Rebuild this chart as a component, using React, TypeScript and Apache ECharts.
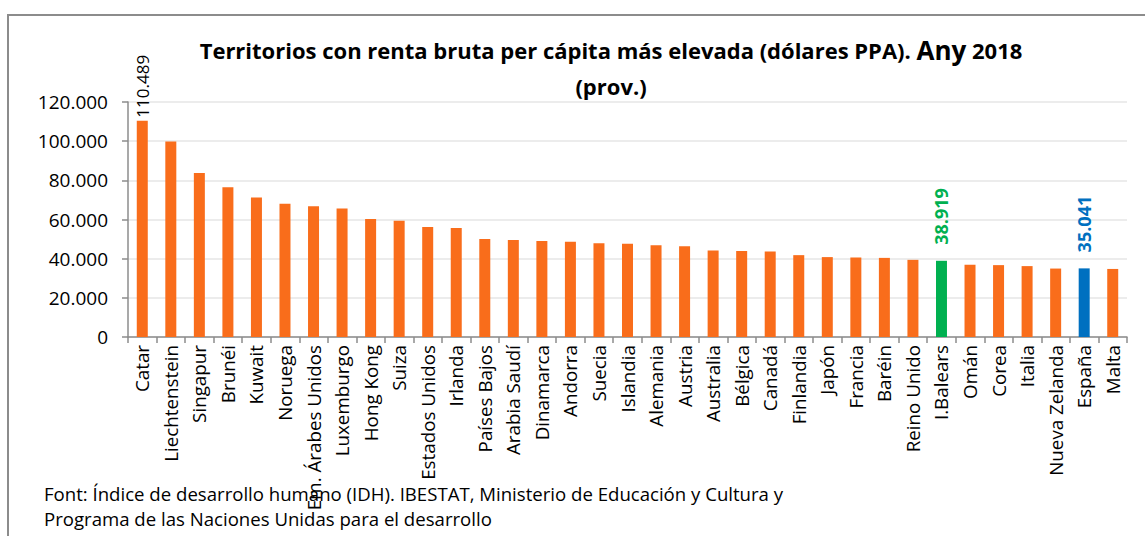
import React, { useEffect, useRef } from "react";
import * as echarts from "echarts";

const categories = [
  "Catar", "Liechtenstein", "Singapur", "Brunéi", "Kuwait", "Noruega",
  "Em. Árabes Unidos", "Luxemburgo", "Hong Kong", "Suiza", "Estados Unidos",
  "Irlanda", "Países Bajos", "Arabia Saudí", "Dinamarca", "Andorra", "Suecia",
  "Islandia", "Alemania", "Austria", "Australia", "Bélgica", "Canadá",
  "Finlandia", "Japón", "Francia", "Baréin", "Reino Unido", "I.Balears",
  "Omán", "Corea", "Italia", "Nueva Zelanda", "España", "Malta",
];

const values = [
  110489, 99800, 83800, 76500, 71200, 68000,
  66800, 65600, 60200, 59400, 56200,
  55600, 50100, 49500, 49000, 48600, 47900,
  47600, 46900, 46400, 44200, 43900, 43650,
  41800, 40800, 40600, 40400, 39400, 38919,
  36900, 36700, 36200, 34950, 35041, 34750,
];

// categories whose value is printed above the bar, with their colours
const labelledCategories = ["Catar", "I.Balears", "España"];
const highlightColors: Record<string, string> = {
  "I.Balears": "#00B050",
  "España": "#0070C0",
};
const labelColors: Record<string, string> = {
  "Catar": "#000000",
  "I.Balears": "#00B050",
  "España": "#0070C0",
};

const yTicks = { min: 0, max: 120000, interval: 20000 };

const titleLine1 = "Territorios con renta bruta per cápita más elevada (dólares PPA). ";
const titleAny = "Any";
const titleYear = " 2018";
const titleLine2 = "(prov.)";
const footer1 = "Font: Índice de desarrollo humano (IDH). IBESTAT, Ministerio de Educación y Cultura y";
const footer2 = "Programa de las Naciones Unidas para el desarrollo";

const ORANGE = "#F96D1B";
const FONT = "'Open Sans', 'Noto Sans', sans-serif";

const fmt = (v: number) => {
  const s = Math.round(v).toString();
  return s.replace(/\B(?=(\d{3})+(?!\d))/g, ".");
};

export default function App() {
  const ref = useRef<HTMLDivElement>(null);

  useEffect(() => {
    if (!ref.current) return;
    const chart = echarts.init(ref.current, undefined, { renderer: "svg" });

    const data = values.map((v, i) => {
      const name = categories[i];
      const color = highlightColors[name] || ORANGE;
      const labelled = labelledCategories.includes(name);
      const bold = name !== "Catar";
      return {
        value: v,
        itemStyle: { color },
        label: labelled
          ? {
              show: true,
              position: "top",
              rotate: 90,
              align: "left",
              verticalAlign: "middle",
              distance: bold ? 16 : 3,
              formatter: (p: any) => fmt(p.value),
              color: labelColors[name],
              fontFamily: FONT,
              fontSize: bold ? 18 : 17,
              fontWeight: bold ? "bold" : "normal",
            }
          : { show: false },
      };
    });

    chart.setOption({
      animation: false,
      backgroundColor: "#ffffff",
      title: {
        text:
          "{a|" + titleLine1 + "}{b|" + titleAny + "}{a|" + titleYear + "}\n{a|" + titleLine2 + "}",
        left: 606,
        top: 27,
        textAlign: "center",
        textStyle: {
          rich: {
            a: { fontFamily: FONT, fontSize: 22, fontWeight: "bold", color: "#000", lineHeight: 36 },
            b: { fontFamily: FONT, fontSize: 26, fontWeight: "bold", color: "#000", lineHeight: 36 },
          },
        },
      },
      grid: { left: 128, right: 18, top: 102, bottom: 199 },
      xAxis: {
        type: "category",
        data: categories,
        axisLine: { show: true, lineStyle: { color: "#8C8C8C", width: 1.5 } },
        axisTick: { show: true, length: 6, interval: 0, lineStyle: { color: "#8C8C8C", width: 1.5 } },
        axisLabel: {
          interval: 0,
          rotate: 90,
          margin: 8,
          color: "#000",
          fontFamily: FONT,
          fontSize: 18.8,
        },
      },
      yAxis: {
        type: "value",
        min: yTicks.min,
        max: yTicks.max,
        interval: yTicks.interval,
        axisLine: { show: true, lineStyle: { color: "#8C8C8C", width: 1.5 } },
        axisTick: { show: true, length: 6, lineStyle: { color: "#8C8C8C", width: 1.5 } },
        axisLabel: {
          color: "#000",
          fontFamily: FONT,
          fontSize: 19,
          margin: 20,
          formatter: (v: number) => fmt(v),
        },
        splitLine: { show: true, lineStyle: { color: "#ECECEC", width: 2 } },
      },
      series: [
        {
          type: "bar",
          data,
          barWidth: 11,
        },
      ],
      graphic: [
        {
          type: "rect",
          shape: { x: 8, y: 15, width: 1400, height: 800 },
          style: { fill: "none", stroke: "#8C8C8C", lineWidth: 2 },
          silent: true,
        },
        {
          type: "text",
          x: 44,
          y: 493,
          style: {
            text: footer1,
            fontFamily: FONT,
            fontSize: 18.6,
            fill: "#000",
            textVerticalAlign: "middle",
          },
        },
        {
          type: "text",
          x: 44,
          y: 518,
          style: {
            text: footer2,
            fontFamily: FONT,
            fontSize: 18.6,
            fill: "#000",
            textVerticalAlign: "middle",
          },
        },
      ],
    });

    return () => chart.dispose();
  }, []);

  return (
    <div
      ref={ref}
      style={{ position: "fixed", left: 0, top: 0, width: 1145, height: 536 }}
    />
  );
}
